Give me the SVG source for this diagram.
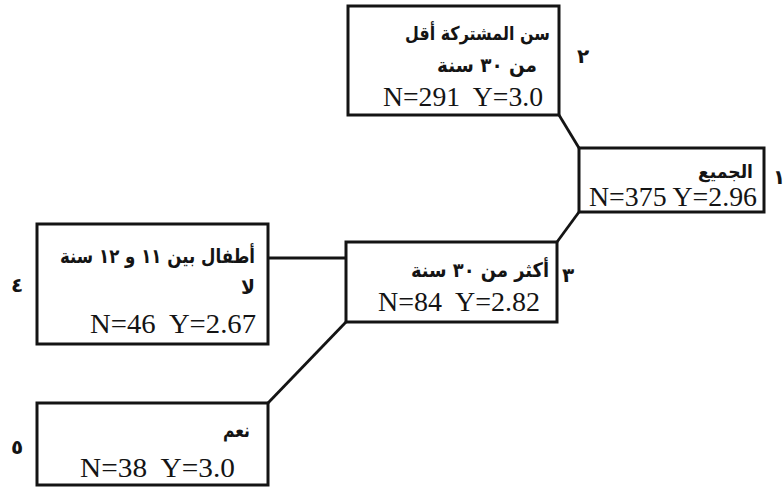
<svg xmlns="http://www.w3.org/2000/svg" width="784" height="489" viewBox="0 0 784 489">
<style>
.box{fill:#ffffff;stroke:#141414;stroke-width:3}
.con{fill:none;stroke:#141414;stroke-width:2.8}
.ar{font-family:"DejaVu Sans","Noto Sans",sans-serif;font-weight:bold;font-size:20px;fill:#141414;text-anchor:end}
.nm{font-family:"Liberation Serif",serif;font-size:27px;fill:#141414;white-space:pre}
.lb{font-family:"DejaVu Sans","Noto Sans",sans-serif;font-weight:bold;font-size:20px;fill:#141414;text-anchor:middle}
</style>
<rect width="784" height="489" fill="#ffffff"/>
<g id="connectors">
<path class="con" d="M559,115 L579,148"/>
<path class="con" d="M579,212 L557,242"/>
<path class="con" d="M346,322 L268,403"/>
<path class="con" d="M268,258 L346,258"/>
</g>
<g id="node1">
<rect class="box" x="579" y="148" width="185" height="64"/>
<text class="ar" x="753" y="178" textLength="55" lengthAdjust="spacingAndGlyphs" style="font-size:18px">الجميع</text>
<text class="nm" x="589" y="206" textLength="168" lengthAdjust="spacingAndGlyphs">N=375 Y=2.96</text>
<text class="lb" x="779" y="184">١</text>
</g>
<g id="node2">
<rect class="box" x="348" y="6" width="211" height="109"/>
<text class="ar" x="550" y="40" textLength="145" lengthAdjust="spacingAndGlyphs" style="font-size:19px">سن المشتركة أقل</text>
<text class="ar" x="537" y="72" textLength="100" lengthAdjust="spacingAndGlyphs">من ٣٠ سنة</text>
<text class="nm" x="383" y="106" textLength="160" lengthAdjust="spacingAndGlyphs" xml:space="preserve">N=291  Y=3.0</text>
<text class="lb" x="583" y="63">٢</text>
</g>
<g id="node3">
<rect class="box" x="346" y="242" width="211" height="80"/>
<text class="ar" x="549" y="277" textLength="138" lengthAdjust="spacingAndGlyphs">أكثر من ٣٠ سنة</text>
<text class="nm" x="378" y="311" textLength="162" lengthAdjust="spacingAndGlyphs" xml:space="preserve">N=84  Y=2.82</text>
<text class="lb" x="568" y="282">٣</text>
</g>
<g id="node4">
<rect class="box" x="37" y="224" width="231" height="120"/>
<text class="ar" x="255" y="263" textLength="195" lengthAdjust="spacingAndGlyphs">أطفال بين ١١ و ١٢ سنة</text>
<text class="ar" x="255" y="294" textLength="14" lengthAdjust="spacingAndGlyphs">لا</text>
<text class="nm" x="90" y="333" textLength="166" lengthAdjust="spacingAndGlyphs" xml:space="preserve">N=46  Y=2.67</text>
<text class="lb" x="17" y="292">٤</text>
</g>
<g id="node5">
<rect class="box" x="37" y="403" width="231" height="82"/>
<text class="ar" x="250" y="437" textLength="27" lengthAdjust="spacingAndGlyphs">نعم</text>
<text class="nm" x="80" y="477" textLength="155" lengthAdjust="spacingAndGlyphs" xml:space="preserve">N=38  Y=3.0</text>
<text class="lb" x="17" y="454">٥</text>
</g>
</svg>
